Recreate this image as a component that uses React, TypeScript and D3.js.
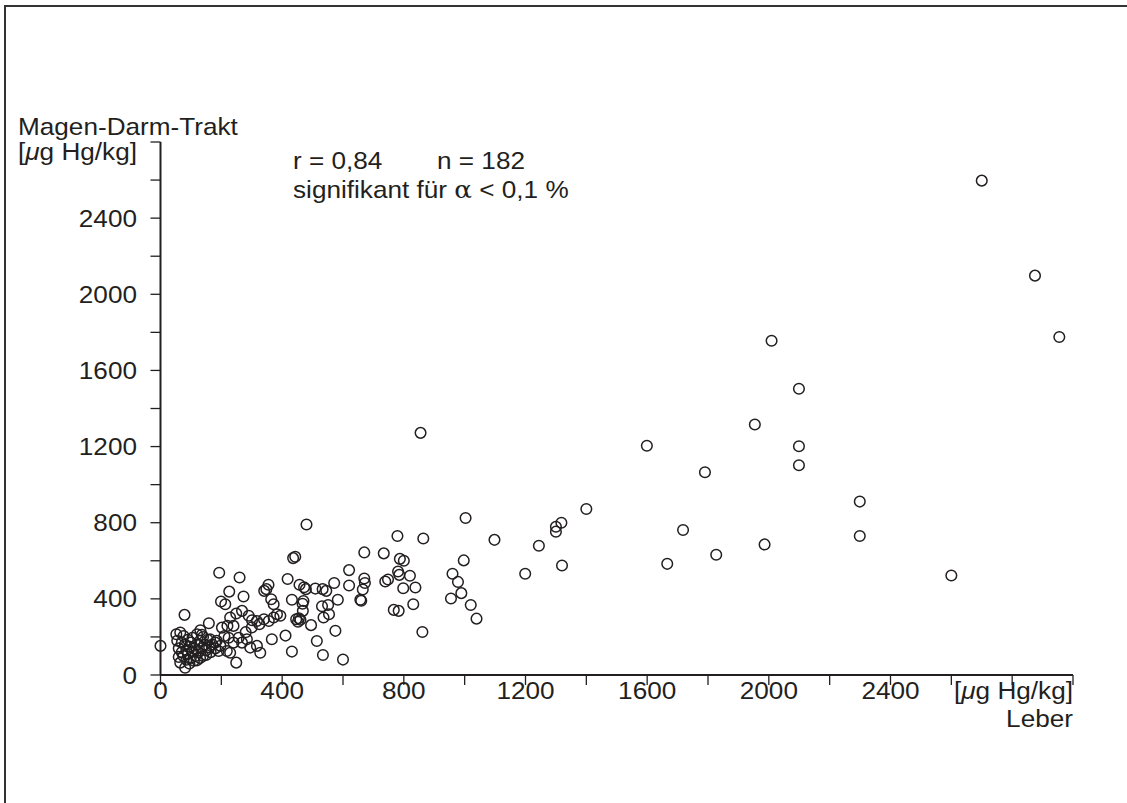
import React from "react";
import * as d3 from "d3";

// Quecksilbergehalt: Leber (x) gegen Magen-Darm-Trakt (y), µg Hg/kg
const leber: number[] = [
  1003, 1098, 1199, 1244, 1300, 1300, 1318, 1320, 1400, 1599,
  1666, 1718, 1790, 1827, 1954, 1986, 2009, 2099, 2099, 2099,
  2299, 2299, 2600, 2700, 2875, 2955, 997, 960, 978, 989,
  955, 1020, 1039,
  779, 864, 670, 734, 787, 800, 620, 781, 785, 820,
  670, 672, 665, 571, 620, 739, 748, 798, 838, 583,
  657, 660, 767, 783, 831, 575, 861, 600, 855,
  480, 436, 443, 418, 355, 348, 341, 457, 472, 478,
  509, 533, 545, 432, 467, 531, 551, 554, 536, 383,
  394, 411, 432, 446, 452, 460, 455, 495, 470, 468,
  514, 534,
  193, 260, 226, 273, 199, 213, 364, 372, 79, 229,
  249, 268, 290, 301, 317, 340, 356, 372, 159, 202,
  220, 240, 131, 120, 136, 52, 65, 76, 0, 163,
  180, 197, 224, 240, 257, 268, 284, 295, 317, 328,
  366, 191, 218, 229, 249, 81, 65, 325, 120,
  60, 70, 75, 80, 85, 90, 95, 100, 100, 105,
  110, 115, 120, 125, 130, 135, 140, 145, 150, 155,
  160, 170, 60, 70, 85, 90, 110, 130, 150, 165,
  55, 95, 105, 140, 185, 180, 210, 300, 280,
];

const magenDarm: number[] = [
  825, 710, 532, 679, 753, 779, 800, 575, 872, 1204,
  584, 762, 1065, 632, 1316, 686, 1756, 1504, 1202, 1102,
  911, 730, 523, 2597, 2098, 1776, 602, 532, 489, 430,
  402, 368, 296,
  730, 717, 644, 639, 610, 600, 551, 544, 526, 521,
  507, 483, 449, 483, 470, 491, 502, 456, 460, 395,
  395, 390, 342, 337, 372, 232, 226, 81, 1272,
  791, 614, 621, 504, 474, 451, 442, 474, 461, 451,
  454, 451, 442, 395, 374, 361, 368, 319, 302, 319,
  311, 207, 123, 293, 280, 290, 298, 262, 389, 337,
  179, 105,
  537, 512, 438, 412, 386, 372, 398, 372, 316, 302,
  323, 337, 311, 288, 284, 293, 284, 302, 272, 249,
  258, 258, 235, 214, 211, 214, 223, 205, 153, 188,
  170, 153, 196, 170, 196, 170, 188, 144, 153, 117,
  188, 126, 126, 117, 65, 38, 65, 267, 77,
  140, 120, 100, 160, 130, 110, 150, 90, 170, 125,
  140, 100, 160, 120, 180, 140, 100, 160, 130, 185,
  145, 160, 95, 170, 80, 185, 75, 90, 105, 120,
  180, 60, 195, 200, 180, 140, 205, 250, 225,
];

const xTicks: number[] = d3.range(0, 3001, 200);
const yTicks: number[] = d3.range(0, 2801, 200);
const xLabels: number[] = [0, 400, 800, 1200, 1600, 2000, 2400];
const yLabels: number[] = [0, 400, 800, 1200, 1600, 2000, 2400];

const INK = "#231f20";
const FONT = "'Liberation Sans', Arial, Helvetica, sans-serif";
const FS = 24;
const SX = 1.09;

function T(props: {
  x: number;
  y: number;
  anchor?: "start" | "middle" | "end";
  children: React.ReactNode;
}) {
  const { x, y, anchor = "start", children } = props;
  return (
    <text
      transform={`translate(${x},${y}) scale(${SX},1)`}
      textAnchor={anchor}
      fontFamily={FONT}
      fontSize={FS}
      fill={INK}
    >
      {children}
    </text>
  );
}

export default function App() {
  const W = 1127;
  const H = 803;
  const x = d3.scaleLinear().domain([0, 3000]).range([160.5, 1073]);
  const y = d3.scaleLinear().domain([0, 2800]).range([675, 142]);
  const fmt = (v: number) => String(v);
  const pts = leber.map((v, i) => [v, magenDarm[i]] as [number, number]);
  const xLabelY = 699;

  return (
    <svg
      width={W}
      height={H}
      style={{ position: "absolute", left: 0, top: 0, background: "#fff" }}
    >
      {/* Rahmen */}
      <path d={`M5,${H} V6 H${W}`} fill="none" stroke="#333" strokeWidth={2} />

      {/* Achsen */}
      <line x1={x(0)} x2={x(3000)} y1={y(0)} y2={y(0)} stroke={INK} strokeWidth={2} />
      <line x1={x(0)} x2={x(0)} y1={y(0)} y2={y(2800)} stroke={INK} strokeWidth={2} />
      {xTicks.map((t) => (
        <line key={"xt" + t} x1={x(t)} x2={x(t)} y1={y(0)} y2={y(0) + 10} stroke={INK} strokeWidth={1.3} />
      ))}
      {yTicks.map((t) => (
        <line key={"yt" + t} x1={x(0) - 10} x2={x(0)} y1={y(t)} y2={y(t)} stroke={INK} strokeWidth={1.3} />
      ))}
      {xLabels.map((t) => (
        <T key={"xl" + t} x={x(t)} y={xLabelY} anchor="middle">
          {fmt(t)}
        </T>
      ))}
      {yLabels.map((t) => (
        <T key={"yl" + t} x={137} y={y(t) + 8.5} anchor="end">
          {fmt(t)}
        </T>
      ))}

      {/* Achsentitel */}
      <T x={18} y={135}>Magen-Darm-Trakt</T>
      <T x={18} y={160}>
        [<tspan fontStyle="italic">μ</tspan>g Hg/kg]
      </T>
      <T x={1073} y={xLabelY} anchor="end">
        [<tspan fontStyle="italic">μ</tspan>g Hg/kg]
      </T>
      <T x={1073} y={xLabelY + 28} anchor="end">Leber</T>

      {/* Statistik */}
      <T x={293} y={169}>r = 0,84</T>
      <T x={437} y={169}>n = 182</T>
      <T x={293} y={198}>
        signifikant für <tspan fontFamily="'DejaVu Serif', serif">α</tspan> &lt; 0,1 %
      </T>

      {/* Messpunkte */}
      {pts.map(([a, b], i) => (
        <circle key={i} cx={x(a)} cy={y(b)} r={5.3} fill="none" stroke={INK} strokeWidth={1.5} />
      ))}
    </svg>
  );
}
